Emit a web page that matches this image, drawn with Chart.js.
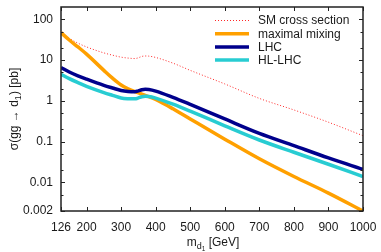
<!DOCTYPE html>
<html>
<head>
<meta charset="utf-8">
<script src="https://cdn.jsdelivr.net/npm/chart.js@4"></script>
<style>
  html, body { margin: 0; padding: 0; background: #fff; }
  #wrap { width: 381px; height: 252px; position: relative; }
</style>
</head>
<body>
<div id="wrap"><canvas id="xsecChart"></canvas></div>
<script>
// mass points (GeV) and cross sections (pb)
const massPoints = [126, 150, 175, 200, 250, 275, 300, 320, 340, 350, 360, 370, 380, 400, 450, 500, 600, 700, 800, 900, 1000];
const smXsec     = [47, 34, 26, 21, 15, 13.2, 11.8, 11.2, 10.9, 11.4, 12.3, 12.6, 12.5, 11.6, 8.4, 5.6, 2.6, 1.15, 0.6, 0.3, 0.14];
const maxMixing  = [47, 31, 21, 14, 5.6, 3.6, 2.45, 1.98, 1.68, 1.57, 1.46, 1.36, 1.27, 1.08, 0.64, 0.36, 0.115, 0.038, 0.014, 0.0055, 0.002];
const lhcLimit   = [6.6, 5.1, 4.1, 3.4, 2.4, 2.07, 1.8, 1.7, 1.67, 1.76, 1.88, 1.92, 1.9, 1.74, 1.22, 0.82, 0.36, 0.16, 0.08, 0.04, 0.021];
const hlLhcLimit = [4.5, 3.5, 2.8, 2.28, 1.6, 1.37, 1.18, 1.13, 1.12, 1.18, 1.26, 1.29, 1.28, 1.17, 0.83, 0.56, 0.245, 0.11, 0.055, 0.028, 0.014];

const seriesLabels = ['SM cross section', 'maximal mixing', 'LHC', 'HL-LHC'];

// axis ticks
const xTickValues = [126, 200, 300, 400, 500, 600, 700, 800, 900, 1000];
const yMajorValues = [0.002, 0.01, 0.1, 1, 10, 100];
const yMajorLabels = ['0.002', '0.01', '0.1', '1', '10', '100'];
const yMinorValues = [0.005, 0.02, 0.05, 0.2, 0.5, 2, 5, 20, 50];

const FONT = '"Liberation Sans", Arial, Helvetica, sans-serif';
const TEXT = '#1a1a1a';

function toPoints(ys) {
    return massPoints.map((m, i) => ({ x: m, y: ys[i] }));
}

// no extra room for overhanging tick labels, the layout padding handles it
function fixScale(scale, size) {
    if (scale.isHorizontal()) scale.height = size; else scale.width = size;
    scale.paddingLeft = 0;
    scale.paddingRight = 0;
    scale.paddingTop = 0;
    scale.paddingBottom = 0;
}

// inward ticks on all four sides plus the frame
const frameTicks = {
    id: 'frameTicks',
    afterDatasetsDraw(chart) {
        const { ctx, chartArea: a, scales: { x, y } } = chart;
        ctx.save();
        ctx.strokeStyle = '#222';
        ctx.lineWidth = 1;
        ctx.beginPath();
        xTickValues.forEach(v => {
            const px = Math.round(x.getPixelForValue(v)) + 0.5;
            ctx.moveTo(px, a.bottom); ctx.lineTo(px, a.bottom - 4);
            ctx.moveTo(px, a.top); ctx.lineTo(px, a.top + 4);
        });
        yMajorValues.forEach(v => {
            const py = Math.round(y.getPixelForValue(v)) + 0.5;
            ctx.moveTo(a.left, py); ctx.lineTo(a.left + 4, py);
            ctx.moveTo(a.right, py); ctx.lineTo(a.right - 4, py);
        });
        yMinorValues.forEach(v => {
            const py = Math.round(y.getPixelForValue(v)) + 0.5;
            ctx.moveTo(a.left, py); ctx.lineTo(a.left + 2.5, py);
            ctx.moveTo(a.right, py); ctx.lineTo(a.right - 2.5, py);
        });
        ctx.stroke();
        ctx.lineWidth = 1.5;
        ctx.strokeRect(a.left, a.top, a.right - a.left, a.bottom - a.top);
        ctx.restore();
    }
};

// gnuplot-style key in the top right corner
const keyBox = {
    id: 'keyBox',
    afterDatasetsDraw(chart) {
        const { ctx } = chart;
        ctx.save();
        ctx.font = '12px ' + FONT;
        ctx.textBaseline = 'middle';
        ctx.textAlign = 'left';
        chart.data.datasets.forEach((ds, i) => {
            const yy = 20.5 + i * 13.2;
            ctx.strokeStyle = ds.borderColor;
            ctx.lineWidth = ds.borderWidth;
            ctx.setLineDash(ds.borderDash || []);
            ctx.beginPath();
            ctx.moveTo(215, yy);
            ctx.lineTo(249, yy);
            ctx.stroke();
            ctx.setLineDash([]);
            ctx.fillStyle = TEXT;
            ctx.fillText(ds.label, 258, yy + 0.5);
        });
        ctx.restore();
    }
};

// axis titles with subscripts
const axisTitles = {
    id: 'axisTitles',
    afterDraw(chart) {
        const { ctx, chartArea: a } = chart;
        ctx.save();
        ctx.fillStyle = TEXT;
        ctx.textBaseline = 'alphabetic';

        // x title: m_{d_1} [GeV]
        const big = '12px ' + FONT, sub = '9px ' + FONT, sub2 = '6.5px ' + FONT;
        ctx.font = big; const wM = ctx.measureText('m').width;
        ctx.font = sub; const wD = ctx.measureText('d').width;
        ctx.font = sub2; const w1 = ctx.measureText('1').width;
        ctx.font = big; const wRest = ctx.measureText(' [GeV]').width;
        const total = wM + wD + w1 + wRest;
        let xx = (a.left + a.right) / 2 - total / 2 + 1;
        const base = 246;
        ctx.font = big; ctx.fillText('m', xx, base); xx += wM;
        ctx.font = sub; ctx.fillText('d', xx, base + 3); xx += wD;
        ctx.font = sub2; ctx.fillText('1', xx, base + 5); xx += w1;
        ctx.font = big; ctx.fillText(' [GeV]', xx, base);

        // y title: sigma(gg -> d_1) [pb]
        ctx.translate(18, (a.top + a.bottom) / 2);
        ctx.rotate(-Math.PI / 2);
        const p1 = 'σ(gg → d', p2 = '1', p3 = ') [pb]';
        ctx.font = big; const w1a = ctx.measureText(p1).width;
        ctx.font = sub; const w2a = ctx.measureText(p2).width;
        ctx.font = big; const w3a = ctx.measureText(p3).width;
        let tx = -(w1a + w2a + w3a) / 2;
        ctx.font = big; ctx.fillText(p1, tx, 0); tx += w1a;
        ctx.font = sub; ctx.fillText(p2, tx, 3); tx += w2a;
        ctx.font = big; ctx.fillText(p3, tx, 0);
        ctx.restore();
    }
};

let xsecChart = null;

function initChart() {
    const ctx = document.getElementById('xsecChart');
    xsecChart = new Chart(ctx, {
        type: 'line',
        data: {
            datasets: [
                {
                    label: seriesLabels[0],
                    data: toPoints(smXsec),
                    borderColor: 'rgb(255, 40, 40)',
                    borderWidth: 1,
                    borderDash: [1, 2],
                    order: 4
                },
                {
                    label: seriesLabels[1],
                    data: toPoints(maxMixing),
                    borderColor: 'rgb(255, 160, 0)',
                    borderWidth: 3.5,
                    order: 3
                },
                {
                    label: seriesLabels[2],
                    data: toPoints(lhcLimit),
                    borderColor: 'rgb(0, 0, 140)',
                    borderWidth: 3.5,
                    order: 2
                },
                {
                    label: seriesLabels[3],
                    data: toPoints(hlLhcLimit),
                    borderColor: 'rgb(40, 204, 210)',
                    borderWidth: 3.5,
                    order: 1
                }
            ]
        },
        options: {
            responsive: true,
            maintainAspectRatio: false,
            animation: false,
            layout: { padding: { top: 7, right: 18, left: 0, bottom: 0 } },
            elements: {
                point: { radius: 0 },
                line: { cubicInterpolationMode: 'monotone', fill: false }
            },
            plugins: {
                legend: { display: false },
                tooltip: { enabled: false }
            },
            scales: {
                x: {
                    type: 'linear',
                    min: 126,
                    max: 1000,
                    grid: { display: false, drawTicks: false },
                    border: { display: false },
                    afterBuildTicks(scale) {
                        scale.ticks = xTickValues.map(v => ({ value: v }));
                    },
                    afterFit(scale) { fixScale(scale, 41); },
                    ticks: {
                        autoSkip: false,
                        maxRotation: 0,
                        padding: 9,
                        color: TEXT,
                        font: { family: FONT, size: 12 },
                        callback: v => String(v)
                    }
                },
                y: {
                    type: 'logarithmic',
                    min: 0.002,
                    max: 200,
                    grid: { display: false, drawTicks: false },
                    border: { display: false },
                    afterBuildTicks(scale) {
                        scale.ticks = yMajorValues.map(v => ({ value: v }));
                    },
                    afterFit(scale) { fixScale(scale, 61); },
                    ticks: {
                        autoSkip: false,
                        padding: 8,
                        color: TEXT,
                        font: { family: FONT, size: 12 },
                        callback: v => {
                            const i = yMajorValues.findIndex(m => Math.abs(m - v) / m < 1e-6);
                            return i >= 0 ? yMajorLabels[i] : '';
                        }
                    }
                }
            }
        },
        plugins: [frameTicks, keyBox, axisTitles]
    });
}

document.addEventListener('DOMContentLoaded', initChart);
</script>
</body>
</html>
